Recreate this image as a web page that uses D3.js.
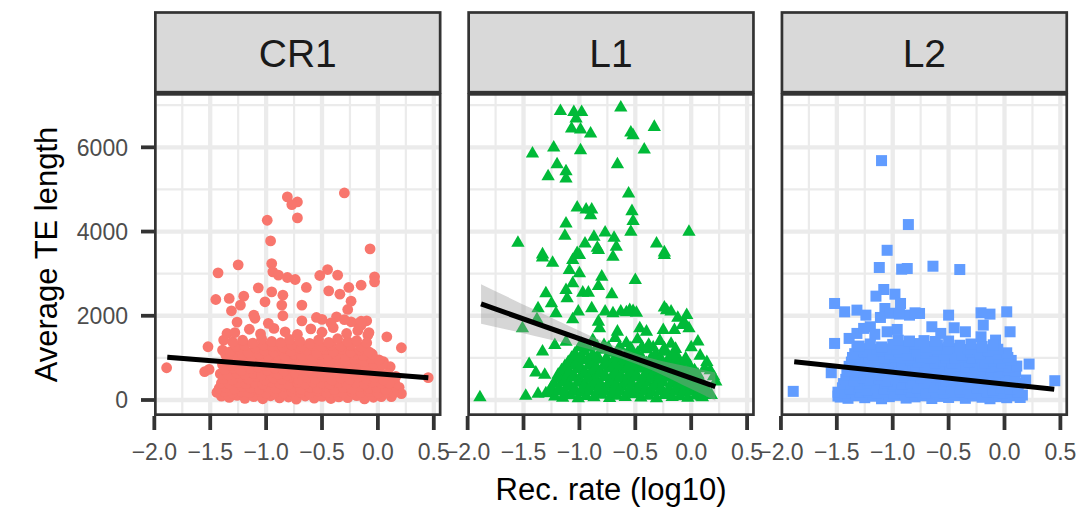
<!DOCTYPE html>
<html><head><meta charset="utf-8">
<script src="https://cdn.jsdelivr.net/npm/d3@7"></script>
<style>body{margin:0;background:#fff}svg{display:block}</style>
</head><body>
<svg id="c" width="1084" height="512"></svg>
<script>
// ---------- data ----------
const panels = ["CR1", "L1", "L2"];
const colors = ["#F8766D", "#00BA38", "#619CFF"];
const shapes = ["circle", "triangle", "square"];
const xTicks = [-2.0, -1.5, -1.0, -0.5, 0.0, 0.5];
const xMinor = [-1.75, -1.25, -0.75, -0.25, 0.25];
const yTicks = [0, 2000, 4000, 6000];
const yMinor = [1000, 3000, 5000, 7000];
const xTitle = "Rec. rate (log10)";
const yTitle = "Average TE length";

const cr1Points = [
[-0.81,4822],[-0.72,4703],[-0.77,4640],[-0.30,4916],[-0.99,4268],[-0.72,4324],[-0.96,3778],[-0.07,3588],
[-1.25,3209],[-1.43,3019],[-0.95,3240],[-0.94,3043],[-0.89,2964],[-0.81,2909],[-0.74,2861],[-0.52,2956],
[-0.45,3098],[-0.36,2964],[-0.03,2924],[-0.03,2806],[-0.64,2672],[-0.44,2592],[-0.34,2513],[-0.26,2672],
[-0.15,2727],[-0.24,2347],[-0.27,2150],[-1.07,2664],[-1.45,2387],[-1.33,2411],[-1.20,2466],[-1.23,2253],
[-1.31,2118],[-1.01,2332],[-0.95,2569],[-0.85,2490],[-0.86,2253],[-0.68,2253],[0.08,1501],[0.21,1241],
[-1.52,1264],[-1.89,766],[-1.55,672],[-1.51,727],[0.45,530],[-1.39,1185],[-1.11,2015],[-0.37,1976],
[-0.50,1913],[-0.10,1881],[-0.18,1818],[0.05,909],[0.11,790],[0.11,276],[0.18,237],[0.12,79],
[-0.24,1857],[-0.15,1778],[-0.09,1541],[-1.35,1580],[-1.38,1422],[-0.06,1106],[-0.03,909],
[0.15,420],[0.19,300],[0.21,150],[0.14,160],[0.16,560],
[-1.40,90],[-1.33,60],[-1.26,110],[-1.19,40],[-1.11,80],[-1.03,30],[-0.96,100],[-0.88,50],[-0.80,70],[-0.73,20],
[-0.65,95],[-0.57,45],[-0.50,85],[-0.42,35],[-0.35,75],[-0.27,55],[-0.19,105],[-0.12,25],[-0.04,65],[0.03,80],
[-1.44,180],[-1.37,200],[-1.30,165],[-1.22,195],[-1.15,175],[-1.07,205],[-1.00,170],[-0.92,190],[-0.84,160],[-0.77,200],
[-0.69,185],[-0.61,170],[-0.54,210],[-0.46,175],[-0.38,195],[-0.31,165],[-0.23,190],[-0.15,180],[-0.08,200],[0.00,170],[0.08,190],
[-1.42,280],[-1.36,300],[-1.28,260],[-1.21,320],[-1.14,290],[-1.06,250],[-0.99,310],[-0.91,270],[-0.84,330],[-0.76,285],
[-0.69,255],[-0.61,305],[-0.54,275],[-0.46,315],[-0.39,245],[-0.31,295],[-0.23,265],[-0.16,325],[-0.08,280],[-0.01,300],[0.07,250],
[-1.40,400],[-1.33,380],[-1.25,420],[-1.18,390],[-1.10,410],[-1.03,375],[-0.95,425],[-0.88,395],[-0.80,370],[-0.72,415],
[-0.65,385],[-0.58,430],[-0.50,400],[-0.43,375],[-0.35,420],[-0.28,390],[-0.20,410],[-0.12,380],[-0.05,425],[0.03,395],[0.10,405],
[-1.38,510],[-1.30,480],[-1.23,540],[-1.16,500],[-1.08,555],[-1.01,470],[-0.93,525],[-0.86,495],[-0.78,545],[-0.71,485],
[-0.63,530],[-0.56,505],[-0.48,560],[-0.41,475],[-0.33,520],[-0.25,490],[-0.18,550],[-0.10,500],[-0.03,535],[0.05,480],
[-1.41,620],[-1.34,600],[-1.26,640],[-1.19,610],[-1.11,630],[-1.04,595],[-0.96,645],[-0.89,615],[-0.81,590],[-0.74,635],
[-0.66,605],[-0.59,650],[-0.51,620],[-0.44,595],[-0.36,640],[-0.29,610],[-0.21,630],[-0.13,600],[-0.06,645],[0.02,615],[0.09,625],
[-1.37,720],[-1.29,760],[-1.22,700],[-1.14,745],[-1.07,780],[-0.99,710],[-0.92,755],[-0.84,690],[-0.77,770],[-0.69,730],
[-0.62,705],[-0.54,765],[-0.47,725],[-0.39,775],[-0.32,695],[-0.24,740],[-0.17,715],[-0.09,760],[-0.02,700],
[-1.39,840],[-1.31,820],[-1.24,860],[-1.16,830],[-1.09,850],[-1.01,815],[-0.94,865],[-0.86,835],[-0.79,810],[-0.71,855],
[-0.64,825],[-0.56,870],[-0.49,840],[-0.41,815],[-0.34,860],[-0.26,830],[-0.19,850],[-0.11,820],[-0.04,865],[0.04,835],
[-1.35,940],[-1.27,980],[-1.19,910],[-1.12,1000],[-1.04,950],[-0.97,920],[-0.89,990],[-0.82,935],[-0.74,1010],[-0.66,960],
[-0.59,905],[-0.51,975],[-0.44,945],[-0.36,1005],[-0.29,925],[-0.21,970],[-0.13,915],[-0.06,985],[0.01,955],
[-1.36,1060],[-1.28,1045],[-1.21,1080],[-1.13,1050],[-1.06,1090],[-0.98,1055],[-0.90,1075],[-0.83,1040],[-0.75,1085],
[-0.68,1065],[-0.60,1050],[-0.52,1090],[-0.45,1060],[-0.37,1080],[-0.29,1045],[-0.21,1070],[-0.13,1055],[-0.05,1085],
[-1.32,1150],[-1.24,1200],[-1.16,1130],[-1.09,1220],[-1.01,1170],[-0.93,1140],[-0.86,1210],[-0.78,1160],[-0.70,1230],
[-0.63,1180],[-0.55,1125],[-0.47,1195],[-0.40,1155],[-0.32,1215],[-0.24,1135],[-0.16,1185],[-0.08,1145],
[-1.27,1280],[-1.19,1300],[-1.10,1265],[-1.02,1310],[-0.94,1285],[-0.85,1260],[-0.77,1305],[-0.68,1275],
[-0.59,1295],[-0.50,1270],[-0.42,1310],[-0.33,1280],[-0.24,1300],[-0.15,1265],
[-1.30,1380],[-1.21,1420],[-1.12,1350],[-1.04,1450],[-0.95,1390],[-0.87,1360],[-0.79,1440],[-0.70,1400],
[-0.61,1345],[-0.53,1430],[-0.44,1370],[-0.36,1455],[-0.27,1385],[-0.19,1410],[-0.10,1360],
[-1.28,1600],[-1.15,1680],[-1.05,1570],[-0.93,1700],[-0.83,1620],[-0.72,1560],[-0.60,1690],[-0.50,1610],
[-0.40,1720],[-0.28,1580],[-0.18,1650],[-0.08,1600],
[-1.26,1850],[-1.10,1940],[-0.98,1820],[-0.85,2000],[-0.68,1880],[-0.55,1960],[-0.42,1830],[-0.30,1910],[-0.15,1870]
];

const l1Points = [
[-1.17,6860],[-1.05,6837],[-0.98,6837],[-1.03,6679],[-0.63,6940],[-1.07,6442],[-0.99,6418],[-0.90,6323],
[-0.54,6347],[-0.52,6283],[-0.33,6481],[-1.23,5991],[-1.42,5849],[-0.99,5928],[-0.42,5944],[-1.20,5596],
[-0.66,5596],[-1.12,5430],[-1.28,5311],[-1.12,5256],[-0.56,4900],[-1.02,4568],[-0.94,4521],[-0.89,4521],
[-0.90,4386],[-0.53,4481],[-0.52,4244],[-1.12,4189],[-1.13,3896],[-0.54,3991],[-0.77,3975],[-0.87,3872],
[-0.69,3849],[-0.95,3714],[-0.84,3612],[-0.67,3635],[-1.55,3730],[-0.02,3991],[-0.31,3714],[-0.24,3501],
[-1.33,3454],[-1.02,3485],
[-1.33,3383],[-1.24,3257],[-1.06,3320],[-1.00,3438],[-0.83,3557],[-0.70,3399],[-0.24,3438],[-1.09,3083],
[-1.00,3004],[-0.80,2925],[-0.50,2846],[-1.06,2767],[-1.12,2608],[-0.97,2545],[-0.92,2545],[-0.83,2703],
[-0.71,2506],[-1.30,2529],[-1.25,2292],[-1.37,2174],[-1.21,2055],[-1.11,2411],[-0.89,2174],[-1.01,2095],
[-0.77,2095],[-0.70,2055],[-0.63,2095],[-0.52,2110],[-0.24,2190],[-0.18,2095],[-0.04,2016],[-1.06,1913],
[-1.51,1699],[-1.38,1913],[-0.83,1857],[-0.82,1699],[-0.66,1620],[-0.46,1699],[-0.40,1620],[-0.25,1660],
[-0.15,1660],[-0.08,1778],[0.06,1383],[-1.33,1146],[-1.45,853],[-1.39,648],[-1.31,593],[-1.22,1304],
[0.12,751],[0.22,435],[-1.89,63],[-1.48,95],[-1.37,142],[-1.30,158],[0.09,79],[0.18,118],
[-0.58,2080],[-0.55,2130],[-0.49,2070],[-0.22,2130],[-0.12,1950],[-0.06,1830],[-0.02,1700],
[0.00,1250],[0.08,1050],[0.14,900],[0.17,700],[0.20,560],
[-1.22,80],[-1.15,50],[-1.08,110],[-1.01,40],[-0.94,90],[-0.87,60],[-0.80,120],[-0.73,45],[-0.66,100],[-0.59,70],
[-0.52,130],[-0.45,55],[-0.38,95],[-0.31,40],[-0.24,115],[-0.17,65],[-0.10,85],[-0.03,50],[0.04,105],[0.10,60],
[-1.26,185],[-1.19,200],[-1.12,170],[-1.05,195],[-0.98,180],[-0.91,205],[-0.84,175],[-0.77,190],[-0.70,165],[-0.63,200],
[-0.56,185],[-0.49,170],[-0.42,195],[-0.35,180],[-0.28,205],[-0.21,175],[-0.14,190],[-0.07,170],[0.00,200],[0.07,185],[0.13,175],
[-1.25,300],[-1.18,270],[-1.11,320],[-1.04,250],[-0.97,290],[-0.90,330],[-0.83,260],[-0.76,310],[-0.69,280],[-0.62,325],
[-0.55,255],[-0.48,300],[-0.41,270],[-0.34,315],[-0.27,285],[-0.20,250],[-0.13,305],[-0.06,275],[0.01,320],[0.08,265],[0.13,290],
[-1.23,395],[-1.16,410],[-1.09,380],[-1.02,405],[-0.95,390],[-0.88,415],[-0.81,385],[-0.74,400],[-0.67,375],[-0.60,410],
[-0.53,395],[-0.46,380],[-0.39,405],[-0.32,390],[-0.25,415],[-0.18,385],[-0.11,400],[-0.04,380],[0.03,410],[0.10,395],
[-1.20,500],[-1.13,470],[-1.06,530],[-0.99,455],[-0.92,510],[-0.85,480],[-0.78,540],[-0.71,465],[-0.64,515],[-0.57,490],
[-0.50,535],[-0.43,460],[-0.36,505],[-0.29,475],[-0.22,525],[-0.15,495],[-0.08,450],[-0.01,510],[0.06,470],
[-1.19,600],[-1.12,615],[-1.05,585],[-0.98,610],[-0.91,595],[-0.84,620],[-0.77,590],[-0.70,605],[-0.63,580],[-0.56,615],
[-0.49,600],[-0.42,585],[-0.35,610],[-0.28,595],[-0.21,620],[-0.14,590],[-0.07,605],[0.00,585],[0.06,600],
[-1.16,700],[-1.09,670],[-1.02,730],[-0.95,655],[-0.88,710],[-0.81,680],[-0.74,745],[-0.67,665],[-0.60,720],
[-0.53,690],[-0.46,740],[-0.39,660],[-0.32,705],[-0.25,675],[-0.18,735],[-0.11,685],[-0.04,650],[0.03,700],
[-1.13,800],[-1.06,815],[-0.99,785],[-0.92,810],[-0.85,795],[-0.78,820],[-0.71,790],[-0.64,805],[-0.57,780],
[-0.50,815],[-0.43,800],[-0.36,785],[-0.29,810],[-0.22,795],[-0.15,820],[-0.08,790],[-0.01,800],
[-1.10,900],[-1.03,870],[-0.96,940],[-0.89,880],[-0.82,955],[-0.75,905],[-0.68,865],[-0.61,930],
[-0.54,890],[-0.47,950],[-0.40,875],[-0.33,920],[-0.26,885],[-0.19,945],[-0.12,870],[-0.05,910],
[-1.07,1000],[-0.99,1015],[-0.92,990],[-0.84,1020],[-0.76,995],[-0.68,1010],[-0.60,985],[-0.52,1015],
[-0.44,1000],[-0.36,990],[-0.28,1020],[-0.20,995],[-0.12,1010],[-0.05,985],
[-1.04,1100],[-0.96,1150],[-0.88,1080],[-0.80,1190],[-0.72,1120],[-0.64,1070],[-0.56,1170],[-0.48,1110],
[-0.40,1200],[-0.32,1090],[-0.24,1140],[-0.16,1060],
[-1.00,1250],[-0.92,1235],[-0.84,1265],[-0.74,1240],[-0.64,1260],[-0.54,1230],[-0.44,1255],[-0.34,1245],[-0.24,1225],[-0.14,1210],
[-0.98,1330],[-0.88,1420],[-0.78,1300],[-0.68,1470],[-0.58,1350],[-0.48,1440],[-0.38,1310],[-0.28,1400],[-0.18,1330],[-1.12,1380]
];

const l2Points = [
[-1.10,5684],[-0.86,4166],[-1.05,3555],
[-1.12,3146],[-0.92,3106],[-0.87,3122],[-0.64,3177],[-0.40,3098],[-1.52,2292],[-1.08,2624],[-1.15,2466],
[-0.98,2513],[-0.93,2292],[-1.43,2094],[-1.32,2134],[-1.24,2015],[-1.07,2173],[-1.11,1960],[-0.76,2055],
[-0.85,2015],[-0.50,2015],[-0.21,2071],[-0.13,2039],[0.02,2094],[-0.19,1778],[-0.65,1739],[-0.45,1715],
[-0.35,1620],[0.05,1620],[-1.52,1343],[-1.39,1462],[-1.32,1581],[-1.20,1739],[-0.96,1675],[-0.57,1581],
[-0.21,1501],[-0.08,1422],[0.22,853],[-1.55,648],[-1.89,205],[0.45,458],[0.19,474],[0.16,118],[-1.49,94],
[-1.02,2060],[-0.94,2040],[-0.80,2070],[-1.26,1700],[-1.16,1560],[-1.05,1620],
[-1.47,70],[-1.40,40],[-1.33,100],[-1.25,55],[-1.18,90],[-1.10,30],[-1.03,80],[-0.95,110],[-0.88,45],[-0.80,75],
[-0.73,100],[-0.65,35],[-0.58,85],[-0.50,60],[-0.43,105],[-0.35,40],[-0.28,95],[-0.20,65],[-0.13,30],[-0.05,80],
[0.02,55],[0.09,100],[0.14,60],
[-1.49,185],[-1.43,170],[-1.36,195],[-1.29,180],[-1.21,200],[-1.14,175],[-1.06,190],[-0.99,165],[-0.91,195],[-0.84,180],
[-0.76,200],[-0.69,170],[-0.61,190],[-0.54,175],[-0.46,200],[-0.39,185],[-0.31,170],[-0.24,195],[-0.16,180],[-0.09,200],
[-0.01,175],[0.06,190],[0.12,180],
[-1.45,290],[-1.38,260],[-1.30,320],[-1.23,245],[-1.15,300],[-1.08,270],[-1.00,330],[-0.93,255],[-0.85,305],[-0.78,280],
[-0.70,240],[-0.63,315],[-0.55,265],[-0.48,300],[-0.40,250],[-0.33,325],[-0.25,275],[-0.18,310],[-0.10,245],[-0.03,295],
[0.05,270],[0.12,300],
[-1.44,390],[-1.37,405],[-1.29,380],[-1.22,400],[-1.14,385],[-1.07,410],[-0.99,390],[-0.92,375],[-0.84,400],[-0.77,385],
[-0.69,410],[-0.62,395],[-0.54,380],[-0.47,405],[-0.39,390],[-0.32,375],[-0.24,400],[-0.17,385],[-0.09,410],[-0.02,390],
[0.06,380],[0.13,400],
[-1.42,490],[-1.35,460],[-1.27,530],[-1.20,475],[-1.12,510],[-1.05,445],[-0.97,500],[-0.90,540],[-0.82,465],[-0.75,520],
[-0.67,480],[-0.60,535],[-0.52,455],[-0.45,505],[-0.37,470],[-0.30,525],[-0.22,490],[-0.15,450],[-0.07,515],[0.00,475],[0.08,500],
[-1.41,600],[-1.34,590],[-1.26,615],[-1.19,595],[-1.11,605],[-1.04,585],[-0.96,610],[-0.89,600],[-0.81,590],[-0.74,615],
[-0.66,595],[-0.59,605],[-0.51,585],[-0.44,610],[-0.36,600],[-0.29,590],[-0.21,615],[-0.14,595],[-0.06,605],[0.01,585],[0.09,600],
[-1.40,700],[-1.32,670],[-1.25,735],[-1.17,655],[-1.10,715],[-1.02,690],[-0.95,745],[-0.87,665],[-0.80,720],[-0.72,680],
[-0.65,740],[-0.57,660],[-0.50,710],[-0.42,685],[-0.35,750],[-0.27,670],[-0.20,725],[-0.12,695],[-0.05,660],[0.03,715],[0.10,680],
[-1.39,800],[-1.31,815],[-1.24,790],[-1.16,810],[-1.09,795],[-1.01,820],[-0.94,800],[-0.86,785],[-0.79,810],[-0.71,795],
[-0.64,815],[-0.56,800],[-0.49,790],[-0.41,810],[-0.34,795],[-0.26,820],[-0.19,800],[-0.11,785],[-0.04,810],[0.04,795],[0.11,805],
[-1.37,900],[-1.29,940],[-1.22,870],[-1.14,955],[-1.07,890],[-0.99,925],[-0.92,865],[-0.84,945],[-0.77,900],[-0.69,960],
[-0.62,880],[-0.54,930],[-0.47,870],[-0.39,950],[-0.32,895],[-0.24,935],[-0.17,875],[-0.09,920],[-0.02,890],[0.06,940],
[-1.36,1010],[-1.28,1020],[-1.21,995],[-1.13,1015],[-1.06,1000],[-0.98,1025],[-0.90,1005],[-0.83,990],[-0.75,1015],
[-0.67,1000],[-0.60,1020],[-0.52,1005],[-0.44,995],[-0.36,1015],[-0.29,1000],[-0.21,1020],[-0.13,1005],[-0.05,990],[0.03,1010],
[-1.34,1100],[-1.26,1140],[-1.18,1070],[-1.10,1160],[-1.02,1090],[-0.94,1130],[-0.86,1065],[-0.78,1150],[-0.70,1110],
[-0.62,1170],[-0.54,1080],[-0.46,1125],[-0.38,1060],[-0.30,1145],[-0.22,1095],[-0.14,1155],[-0.06,1085],[0.02,1120],
[-1.32,1210],[-1.23,1220],[-1.14,1200],[-1.05,1215],[-0.96,1205],[-0.87,1225],[-0.78,1210],[-0.69,1195],[-0.60,1215],
[-0.51,1205],[-0.42,1220],[-0.33,1200],[-0.24,1210],[-0.15,1195],[-0.06,1205],
[-1.30,1280],[-1.20,1330],[-1.10,1260],[-1.00,1320],[-0.90,1290],[-0.80,1340],[-0.70,1270],[-0.60,1310],
[-0.50,1250],[-0.40,1300],[-0.30,1330],[-0.20,1270],[-0.10,1310],
[-0.95,1420],[-0.85,1400],[-0.72,1410],[-0.62,1390],[-0.50,1400]
];

// fitted lines and their confidence band half-widths
const fitX = [[-1.884, 0.451], [-1.880, 0.216], [-1.881, 0.445]];
const fitY = [[1014, 530], [2280, 316], [910, 254]];
const ciX = [[-1.884, -1.2, -0.6, 0.0, 0.451],
             [-1.880, -1.4, -0.9, -0.6, -0.3, 0.0, 0.216],
             [-1.881, -1.0, 0.0, 0.445]];
const ciHalf = [[65, 35, 22, 35, 60],
                [470, 310, 160, 120, 150, 260, 335],
                [45, 20, 25, 40]];

const allPoints = [cr1Points, l1Points, l2Points];

// ---------- layout ----------
const svg = d3.select("#c");
const panelLeft = [154, 467.3, 780.6];
const panelW = 287.5;
const panelTop = 93, panelBottom = 416;
const stripTop = 12.5, stripBottom = 92.2;
const bw = 2.7;
const FONT = "'Liberation Sans', Arial, Helvetica, sans-serif";

const y = d3.scaleLinear().domain([-380, 7290]).range([panelBottom, panelTop]);

const defs = svg.append("defs");

panels.forEach((name, i) => {
  const x0 = panelLeft[i];
  const x = d3.scaleLinear().domain([-2.003, 0.569]).range([x0, x0 + panelW]);
  const g = svg.append("g");

  defs.append("clipPath").attr("id", "clip" + i)
    .append("rect").attr("x", x0).attr("y", panelTop).attr("width", panelW).attr("height", panelBottom - panelTop);

  const inner = g.append("g").attr("clip-path", `url(#clip${i})`);
  inner.append("rect").attr("x", x0).attr("y", panelTop).attr("width", panelW).attr("height", panelBottom - panelTop).attr("fill", "#fff");

  // grid
  inner.selectAll(".gxm").data(xMinor).join("line")
    .attr("x1", d => x(d)).attr("x2", d => x(d)).attr("y1", panelTop).attr("y2", panelBottom)
    .attr("stroke", "#EBEBEB").attr("stroke-width", 2.2);
  inner.selectAll(".gym").data(yMinor).join("line")
    .attr("y1", d => y(d)).attr("y2", d => y(d)).attr("x1", x0).attr("x2", x0 + panelW)
    .attr("stroke", "#EBEBEB").attr("stroke-width", 2.2);
  inner.selectAll(".gx").data(xTicks).join("line")
    .attr("x1", d => x(d)).attr("x2", d => x(d)).attr("y1", panelTop).attr("y2", panelBottom)
    .attr("stroke", "#EBEBEB").attr("stroke-width", 4.3);
  inner.selectAll(".gy").data(yTicks).join("line")
    .attr("y1", d => y(d)).attr("y2", d => y(d)).attr("x1", x0).attr("x2", x0 + panelW)
    .attr("stroke", "#EBEBEB").attr("stroke-width", 4.3);

  // points
  const pts = allPoints[i];
  const col = colors[i];
  if (shapes[i] === "circle") {
    inner.selectAll(".pt").data(pts).join("circle")
      .attr("cx", d => x(d[0])).attr("cy", d => y(d[1])).attr("r", 5.4).attr("fill", col);
  } else if (shapes[i] === "triangle") {
    const r = 7.7;
    inner.selectAll(".pt").data(pts).join("path")
      .attr("transform", d => `translate(${x(d[0])},${y(d[1])})`)
      .attr("d", `M0,${-r}L${r * 0.866},${r / 2}L${-r * 0.866},${r / 2}Z`)
      .attr("fill", col);
  } else {
    const s = 11;
    inner.selectAll(".pt").data(pts).join("rect")
      .attr("x", d => x(d[0]) - s / 2).attr("y", d => y(d[1]) - s / 2)
      .attr("width", s).attr("height", s).attr("fill", col);
  }

  // confidence band + fitted line
  const slope = (fitY[i][1] - fitY[i][0]) / (fitX[i][1] - fitX[i][0]);
  const fit = v => fitY[i][0] + slope * (v - fitX[i][0]);
  const band = ciX[i].map((v, k) => ({ x: v, lo: fit(v) - ciHalf[i][k], hi: fit(v) + ciHalf[i][k] }));
  inner.append("path").datum(band)
    .attr("d", d3.area().x(d => x(d.x)).y0(d => y(d.lo)).y1(d => y(d.hi)).curve(d3.curveMonotoneX))
    .attr("fill", "#999999").attr("fill-opacity", 0.4);
  inner.append("line")
    .attr("x1", x(fitX[i][0])).attr("y1", y(fitY[i][0]))
    .attr("x2", x(fitX[i][1])).attr("y2", y(fitY[i][1]))
    .attr("stroke", "#000").attr("stroke-width", 5);

  // panel border
  g.append("rect").attr("x", x0 + bw / 2).attr("y", panelTop + bw / 2)
    .attr("width", panelW - bw).attr("height", panelBottom - panelTop - bw)
    .attr("fill", "none").attr("stroke", "#333333").attr("stroke-width", bw);

  // strip
  g.append("rect").attr("x", x0 + bw / 2).attr("y", stripTop)
    .attr("width", panelW - bw).attr("height", stripBottom - stripTop)
    .attr("fill", "#D9D9D9").attr("stroke", "#333333").attr("stroke-width", bw);
  g.append("text").attr("x", x0 + panelW / 2).attr("y", 66.7)
    .attr("text-anchor", "middle").attr("font-family", FONT).attr("font-size", 39)
    .attr("fill", "#1A1A1A").text(name);

  // x axis ticks + labels
  g.selectAll(".xt").data(xTicks).join("line")
    .attr("x1", d => x(d)).attr("x2", d => x(d)).attr("y1", panelBottom).attr("y2", panelBottom + 14)
    .attr("stroke", "#333333").attr("stroke-width", 3.8);
  const fmt = d3.format(".1f");
  g.selectAll(".xl").data(xTicks).join("text")
    .attr("x", d => x(d)).attr("y", 459.5).attr("text-anchor", "middle")
    .attr("font-family", FONT).attr("font-size", 23).attr("fill", "#4D4D4D")
    .text(d => fmt(d));

  if (i === 0) {
    g.selectAll(".yt").data(yTicks).join("line")
      .attr("x1", x0 - 13).attr("x2", x0).attr("y1", d => y(d)).attr("y2", d => y(d))
      .attr("stroke", "#333333").attr("stroke-width", 3.8);
    g.selectAll(".yl").data(yTicks).join("text")
      .attr("x", 128).attr("y", d => y(d) + 8.2).attr("text-anchor", "end")
      .attr("font-family", FONT).attr("font-size", 23).attr("fill", "#4D4D4D")
      .text(d => d);
  }
});

// axis titles
svg.append("text").attr("x", (panelLeft[0] + panelLeft[2] + panelW) / 2).attr("y", 500)
  .attr("text-anchor", "middle").attr("font-family", FONT).attr("font-size", 31)
  .attr("fill", "#000").text(xTitle);
svg.append("text").attr("transform", `translate(57,${(panelTop + panelBottom) / 2}) rotate(-90)`)
  .attr("text-anchor", "middle").attr("font-family", FONT).attr("font-size", 31)
  .attr("fill", "#000").text(yTitle);
</script>
</body></html>
